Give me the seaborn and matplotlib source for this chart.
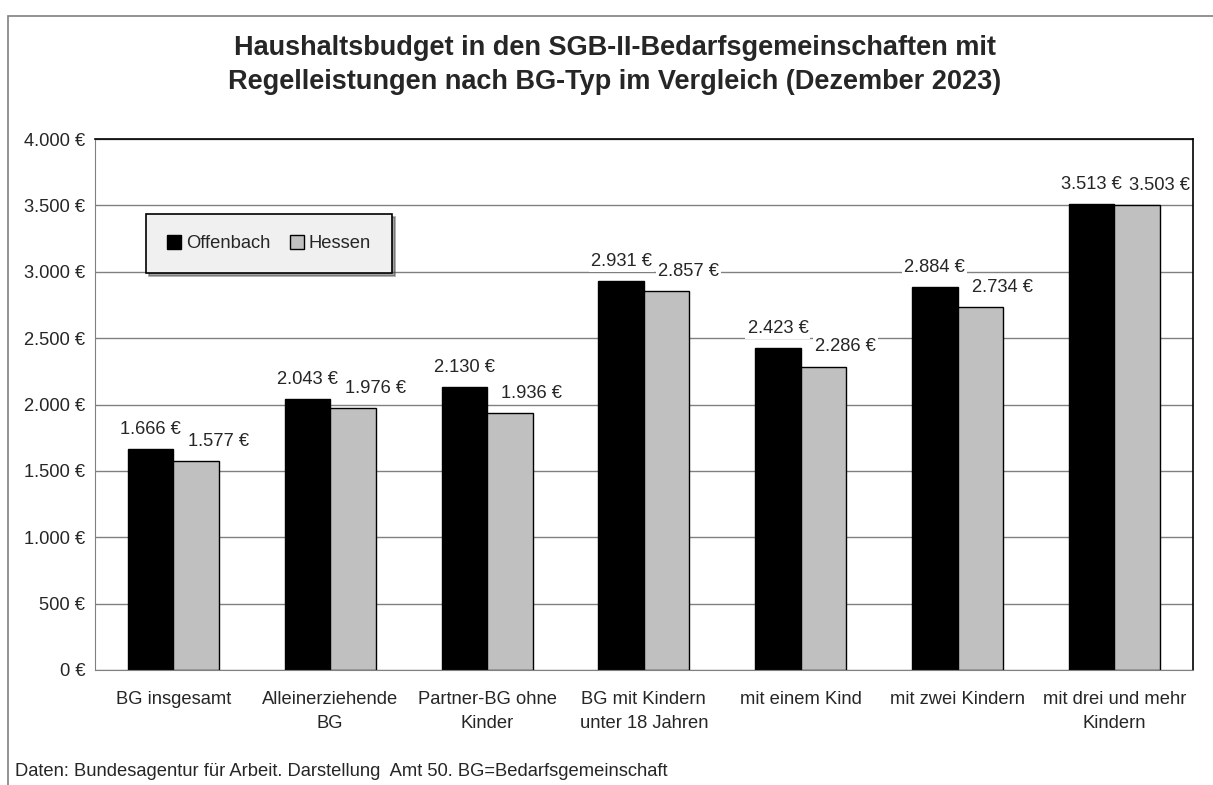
import matplotlib
matplotlib.use("Agg")
import matplotlib.pyplot as plt
from matplotlib.patches import Rectangle, Patch
import seaborn as sns
import pandas as pd

categories = ["BG insgesamt", "Alleinerziehende\nBG", "Partner-BG ohne\nKinder",
              "BG mit Kindern\nunter 18 Jahren", "mit einem Kind", "mit zwei Kindern",
              "mit drei und mehr\nKindern"]
offenbach = [1666, 2043, 2130, 2931, 2423, 2884, 3513]
hessen = [1577, 1976, 1936, 2857, 2286, 2734, 3503]
series = ["Offenbach", "Hessen"]

df = pd.DataFrame({
    "cat": categories * 2,
    "wert": offenbach + hessen,
    "region": [series[0]] * len(categories) + [series[1]] * len(categories),
})

sns.set_style("white")
plt.rcParams["font.family"] = ["Liberation Sans Narrow", "Liberation Sans", "DejaVu Sans"]

fig = plt.figure(figsize=(12.13, 7.85), dpi=100)
ax = fig.add_axes([0.0783, 0.1465, 0.905, 0.6764])

sns.barplot(data=df, x="cat", y="wert", hue="region", palette=["#000000", "#c0c0c0"],
            width=0.58, edgecolor="black", linewidth=1, ax=ax, legend=False)

def euro(v):
    return f"{v:,.0f}".replace(",", ".") + " €"

fs = 13.2
ax.set_ylim(0, 4000)
ax.set_yticks(range(0, 4001, 500))
ax.set_yticklabels([euro(v) for v in range(0, 4001, 500)], fontsize=fs)
ax.set_xlabel("")
ax.set_ylabel("")
ax.set_xticks(range(len(categories)))
ax.set_xticklabels(categories, fontsize=fs, linespacing=1.55)
ax.tick_params(axis="x", length=0, pad=15)
ax.tick_params(axis="y", length=4, direction="out", color="#808080", pad=3)
ax.set_xlim(-0.5, len(categories) - 0.5)
ax.yaxis.grid(True, color="#808080", linewidth=1)
ax.set_axisbelow(True)
for s in ["top", "right"]:
    ax.spines[s].set_color("black")
    ax.spines[s].set_linewidth(1.2)
ax.spines["left"].set_color("#808080")
ax.spines["bottom"].set_color("#808080")

# data labels
for cont, dx in zip(ax.containers, [0, 16]):
    for bar in cont:
        h = bar.get_height()
        ax.annotate(euro(h), (bar.get_x() + bar.get_width() / 2, h),
                    xytext=(dx, 8), textcoords="offset points", ha="center", va="bottom",
                    fontsize=fs,
                    bbox=dict(facecolor="white", edgecolor="none", pad=1.5))

# legend
handles = [Patch(facecolor="#000000", edgecolor="black"),
           Patch(facecolor="#c0c0c0", edgecolor="black")]
leg = ax.legend(handles, series, loc="upper left", bbox_to_anchor=(0.0385, 0.876),
                ncol=2, fontsize=fs, frameon=True, fancybox=False, shadow=True,
                handlelength=0.75, handleheight=0.75, handletextpad=0.25,
                columnspacing=1.1, borderpad=1.15, edgecolor="black")
leg.get_frame().set_facecolor("#f0f0f0")
leg.get_frame().set_linewidth(1.2)

fig.suptitle("Haushaltsbudget in den SGB-II-Bedarfsgemeinschaften mit\n"
             "Regelleistungen nach BG-Typ im Vergleich (Dezember 2023)",
             x=0.507, y=0.955, fontsize=19.5, fontweight="bold", linespacing=1.4)

fig.text(0.012, 0.0166, "Daten: Bundesagentur für Arbeit. Darstellung  Amt 50. BG=Bedarfsgemeinschaft",
         fontsize=fs, ha="left", va="center")

fig.patches.append(Rectangle((0.0066, -0.01), 1.1, 0.99, transform=fig.transFigure,
                             fill=False, edgecolor="#808080", linewidth=1.2))

fig.savefig("out.png", dpi=100)
